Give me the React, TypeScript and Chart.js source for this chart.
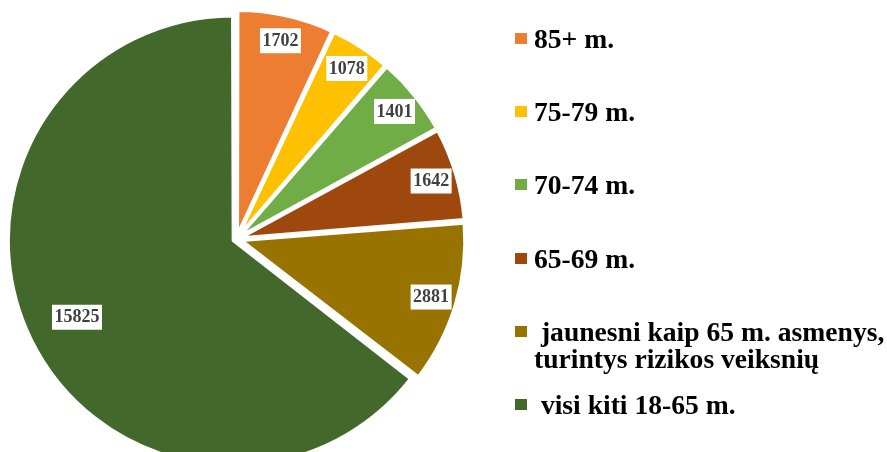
import React, { useEffect, useRef } from "react";
import { Chart, registerables } from "chart.js";

Chart.register(...registerables);

const categories: (string | string[])[] = [
  "85+ m.",
  "75-79 m.",
  "70-74 m.",
  "65-69 m.",
  [" jaunesni kaip 65 m. asmenys,", "turintys rizikos veiksnių"],
  " visi kiti 18-65 m.",
];
const values = [1702, 1078, 1401, 1642, 2881, 15825];
const colors = ["#ED7D31", "#FFC000", "#70AD47", "#9E480E", "#997300", "#43682B"];

const FONT = "'Liberation Serif', 'Times New Roman', serif";
const EXPLODE = 7.5; // px each slice is pulled out from the centre

// Chart.js translates an arc by offset/4 * (2 - sin(min(PI, circumference))).
// Pick the offset so every slice is pulled out by the same distance.
function offsetFor(ctx: any) {
  const total = values.reduce((a, b) => a + b, 0);
  const circ = (Number(ctx.parsed) / total) * Math.PI * 2;
  const fix = 1 - Math.sin(Math.min(Math.PI, circ));
  return (4 * EXPLODE) / (1 + fix);
}

const valueLabelPlugin = {
  id: "valueLabels",
  afterDatasetsDraw(chart: any) {
    const ctx = chart.ctx;
    const meta = chart.getDatasetMeta(0);
    const ds = chart.data.datasets[0];
    ctx.save();
    ctx.font = `bold 18px ${FONT}`;
    ctx.textAlign = "center";
    ctx.textBaseline = "middle";
    meta.data.forEach((arc: any, i: number) => {
      const p = arc.getProps(["x", "y", "startAngle", "endAngle", "outerRadius", "circumference"], true);
      const mid = (p.startAngle + p.endAngle) / 2;
      const f = p.circumference > Math.PI ? 0.77 : 0.885;
      const d = EXPLODE + p.outerRadius * f;
      const cx = p.x + Math.cos(mid) * d;
      const cy = p.y + Math.sin(mid) * d;
      const text = String(ds.data[i]);
      const w = ctx.measureText(text).width + 5;
      const h = 25;
      ctx.fillStyle = "#ffffff";
      ctx.fillRect(cx - w / 2, cy - h / 2, w, h);
      ctx.fillStyle = "#404040";
      ctx.fillText(text, cx, cy + 0.5);
    });
    ctx.restore();
  },
};

export default function App() {
  const ref = useRef<HTMLCanvasElement | null>(null);

  useEffect(() => {
    if (!ref.current) return;
    const chart = new Chart(ref.current, {
      type: "pie",
      data: {
        labels: categories as any,
        datasets: [
          {
            data: values,
            backgroundColor: colors,
            borderColor: "#ffffff",
            borderWidth: 3,
            offset: offsetFor,
            radius: 221,
            clip: false,
          } as any,
        ],
      },
      options: {
        responsive: false,
        maintainAspectRatio: false,
        animation: false,
        layout: { padding: { left: 0, right: 414, top: 26, bottom: 0 } },
        plugins: {
          legend: { display: false },
          tooltip: { enabled: false },
        },
      },
      plugins: [valueLabelPlugin],
    });
    return () => chart.destroy();
  }, []);

  const rowTop = 25;
  const rowStep = 73.2;

  return (
    <div style={{ position: "absolute", left: 0, top: 0, width: 887, height: 452, background: "#fff", overflow: "hidden" }}>
      <canvas ref={ref} width={887} height={452} style={{ position: "absolute", left: 0, top: 0, width: 887, height: 452 }} />
      {categories.map((c, i) => {
        const lines = Array.isArray(c) ? c : [c];
        const top = rowTop + i * rowStep;
        return (
          <React.Fragment key={i}>
            <div
              style={{
                position: "absolute",
                left: 515,
                top: top + 8,
                width: 12,
                height: 11,
                background: colors[i],
              }}
            />
            <div
              style={{
                position: "absolute",
                left: 534,
                top,
                font: `bold 27.6px ${FONT}`,
                lineHeight: "27px",
                color: "#000",
                whiteSpace: "pre",
              }}
            >
              {lines.map((l, j) => (
                <div key={j}>{l}</div>
              ))}
            </div>
          </React.Fragment>
        );
      })}
    </div>
  );
}
